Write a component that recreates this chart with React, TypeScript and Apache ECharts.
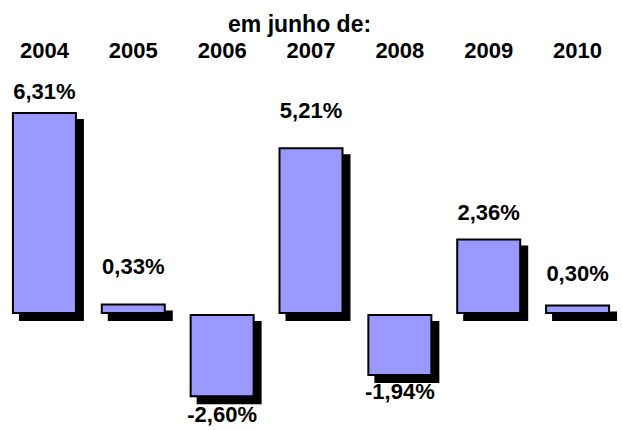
import React, { useEffect, useRef } from "react";
import * as echarts from "echarts";

const categories = ["2004", "2005", "2006", "2007", "2008", "2009", "2010"];
const values = [6.31, 0.33, -2.6, 5.21, -1.94, 2.36, 0.3];
const title = "em junho de:";
// gap between each bar and its value label (layout, not data)
const labelGaps = [10, 26, 6, 26, 4, 15, 20];

export default function App() {
  const ref = useRef<HTMLDivElement>(null);
  useEffect(() => {
    document.body.style.margin = "0";
    const chart = echarts.init(ref.current!, null, { renderer: "svg" });
    const font = "'Liberation Sans', Arial, sans-serif";
    chart.setOption({
      animation: false,
      backgroundColor: "#ffffff",
      title: {
        text: title,
        left: 228,
        top: 12,
        padding: 0,
        textStyle: { fontFamily: font, fontWeight: "bold", fontSize: 23, color: "#000", lineHeight: 23 },
      },
      grid: { left: -3, right: -9, top: 90, bottom: 20 },
      xAxis: {
        type: "category",
        position: "top",
        data: categories,
        axisLine: { show: false },
        axisTick: { show: false },
        axisLabel: {
          margin: 30,
          fontFamily: font,
          fontWeight: "bold",
          fontSize: 22,
          lineHeight: 20,
          color: "#000",
        },
      },
      yAxis: {
        type: "value",
        min: -3,
        max: 7,
        show: false,
        splitLine: { show: false },
      },
      series: [
        {
          type: "bar",
          data: values.map((v, i) => ({ value: v, label: { distance: labelGaps[i] } })),
          barWidth: 65,
          itemStyle: {
            color: "#9999FF",
            borderColor: "#000",
            borderWidth: 2,
            shadowColor: "#000",
            shadowBlur: 0,
            shadowOffsetX: 7,
            shadowOffsetY: 7,
          },
          label: {
            show: true,
            position: "outside",
            fontFamily: font,
            fontWeight: "bold",
            fontSize: 22,
            color: "#000",
            formatter: (p: any) => p.value.toFixed(2).replace(".", ",") + "%",
          },
        },
      ],
    });
    return () => chart.dispose();
  }, []);
  return <div ref={ref} style={{ width: 622, height: 430 }} />;
}
